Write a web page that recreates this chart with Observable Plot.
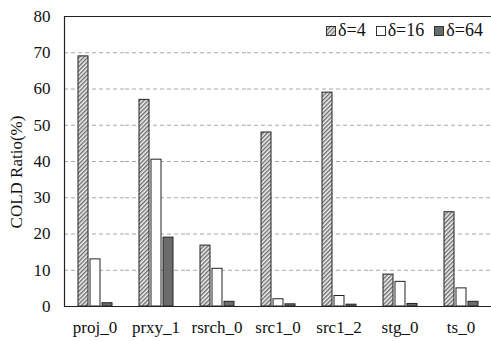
<!DOCTYPE html>
<html>
<head>
<meta charset="utf-8">
<script src="https://cdn.jsdelivr.net/npm/d3@7"></script>
<script src="https://cdn.jsdelivr.net/npm/@observablehq/plot@0.6"></script>
<style>
  html, body { margin: 0; padding: 0; background: #fff; }
  #wrap { position: relative; width: 491px; height: 341px; font-family: "Liberation Serif", "Times New Roman", serif; }
  #wrap svg text { font-family: "Liberation Serif", "Times New Roman", serif; }
  #legend { position: absolute; left: 326px; top: 20px; display: flex; align-items: center; font-size: 18px; color: #111; white-space: nowrap; }
  #legend .item { display: flex; align-items: center; margin-right: 10px; }
  #legend .item:last-child { margin-right: 0; }
  #legend svg { margin-right: 2px; }
  #ylabel { position: absolute; left: 17px; top: 172px; transform: translate(-50%, -50%) rotate(-90deg); font-size: 17px; color: #111; white-space: nowrap; }
</style>
</head>
<body>
<div id="wrap"></div>
<script>
const categories = ["proj_0", "prxy_1", "rsrch_0", "src1_0", "src1_2", "stg_0", "ts_0"];
const seriesNames = ["δ=4", "δ=16", "δ=64"];
const delta4  = [69, 57, 16.8, 48, 59, 8.8, 26];
const delta16 = [13, 40.5, 10.4, 2, 2.9, 6.8, 5];
const delta64 = [0.9, 19, 1.3, 0.6, 0.5, 0.7, 1.3];
const yTicks = [0, 10, 20, 30, 40, 50, 60, 70, 80];
const gridTicks = [10, 20, 30, 40, 50, 60, 70];
const yLabel = "COLD Ratio(%)";
const fills = ["url(#hatch)", "#ffffff", "#6b6b6b"];

const seriesValues = [delta4, delta16, delta64];
const data = [];
categories.forEach((c, i) => {
  seriesNames.forEach((s, j) => data.push({cat: c, series: s, value: seriesValues[j][i]}));
});

const font = "'Liberation Serif', 'Times New Roman', serif";

const plot = Plot.plot({
  width: 491,
  height: 341,
  marginLeft: 64,
  marginRight: 0,
  marginTop: 16,
  marginBottom: 35,
  style: {fontFamily: font, fontSize: "17px", color: "#111", background: "#fff"},
  fx: {domain: categories, padding: 0, label: null},
  x: {domain: seriesNames, padding: 0.2, paddingOuter: 0.95, axis: null},
  y: {domain: [0, 80], label: null},
  color: {type: "ordinal", domain: seriesNames, range: fills},
  marks: [
    Plot.gridY(gridTicks, {stroke: "#a8a8a8", strokeOpacity: 1, strokeDasharray: "4,3"}),
    Plot.barY(data, {fx: "cat", x: "series", y: "value", fill: "series", stroke: "#222", strokeWidth: 1}),
    Plot.ruleY([0, 80], {stroke: "#222", strokeWidth: 1.2}),
    Plot.frame({anchor: "left", facetAnchor: "left", stroke: "#222", strokeWidth: 1.2}),
    Plot.axisY(yTicks, {tickSize: 0, tickPadding: 14, fontSize: 17, fontFamily: font, label: null}),
    Plot.axisFx({anchor: "bottom", tickSize: 0, tickPadding: 14, fontSize: 17, fontFamily: font, label: null})
  ]
});

const svg = d3.select(plot);
const defs = svg.insert("defs", ":first-child");
const pat = defs.append("pattern")
  .attr("id", "hatch").attr("patternUnits", "userSpaceOnUse")
  .attr("width", 3).attr("height", 3)
  .attr("patternTransform", "rotate(45)");
pat.append("rect").attr("width", 3).attr("height", 3).attr("fill", "#f2f2f2");
pat.append("line").attr("x1", 0.75).attr("x2", 0.75).attr("y1", 0).attr("y2", 3)
  .attr("stroke", "#555").attr("stroke-width", 1.2);

const wrap = document.getElementById("wrap");
wrap.appendChild(plot);

const yl = document.createElement("div");
yl.id = "ylabel";
yl.textContent = yLabel;
wrap.appendChild(yl);

const legend = document.createElement("div");
legend.id = "legend";
seriesNames.forEach((s, j) => {
  const item = document.createElement("div");
  item.className = "item";
  item.innerHTML = `<svg width="10" height="10"><defs><pattern id="lh${j}" patternUnits="userSpaceOnUse" width="3" height="3" patternTransform="rotate(45)"><rect width="3" height="3" fill="#f2f2f2"/><line x1="0.75" x2="0.75" y1="0" y2="3" stroke="#555" stroke-width="1.2"/></pattern></defs><rect x="0.5" y="0.5" width="9" height="9" fill="${j === 0 ? `url(#lh${j})` : fills[j]}" stroke="#333" stroke-width="1"/></svg><span>${s}</span>`;
  legend.appendChild(item);
});
wrap.appendChild(legend);
</script>
</body>
</html>
